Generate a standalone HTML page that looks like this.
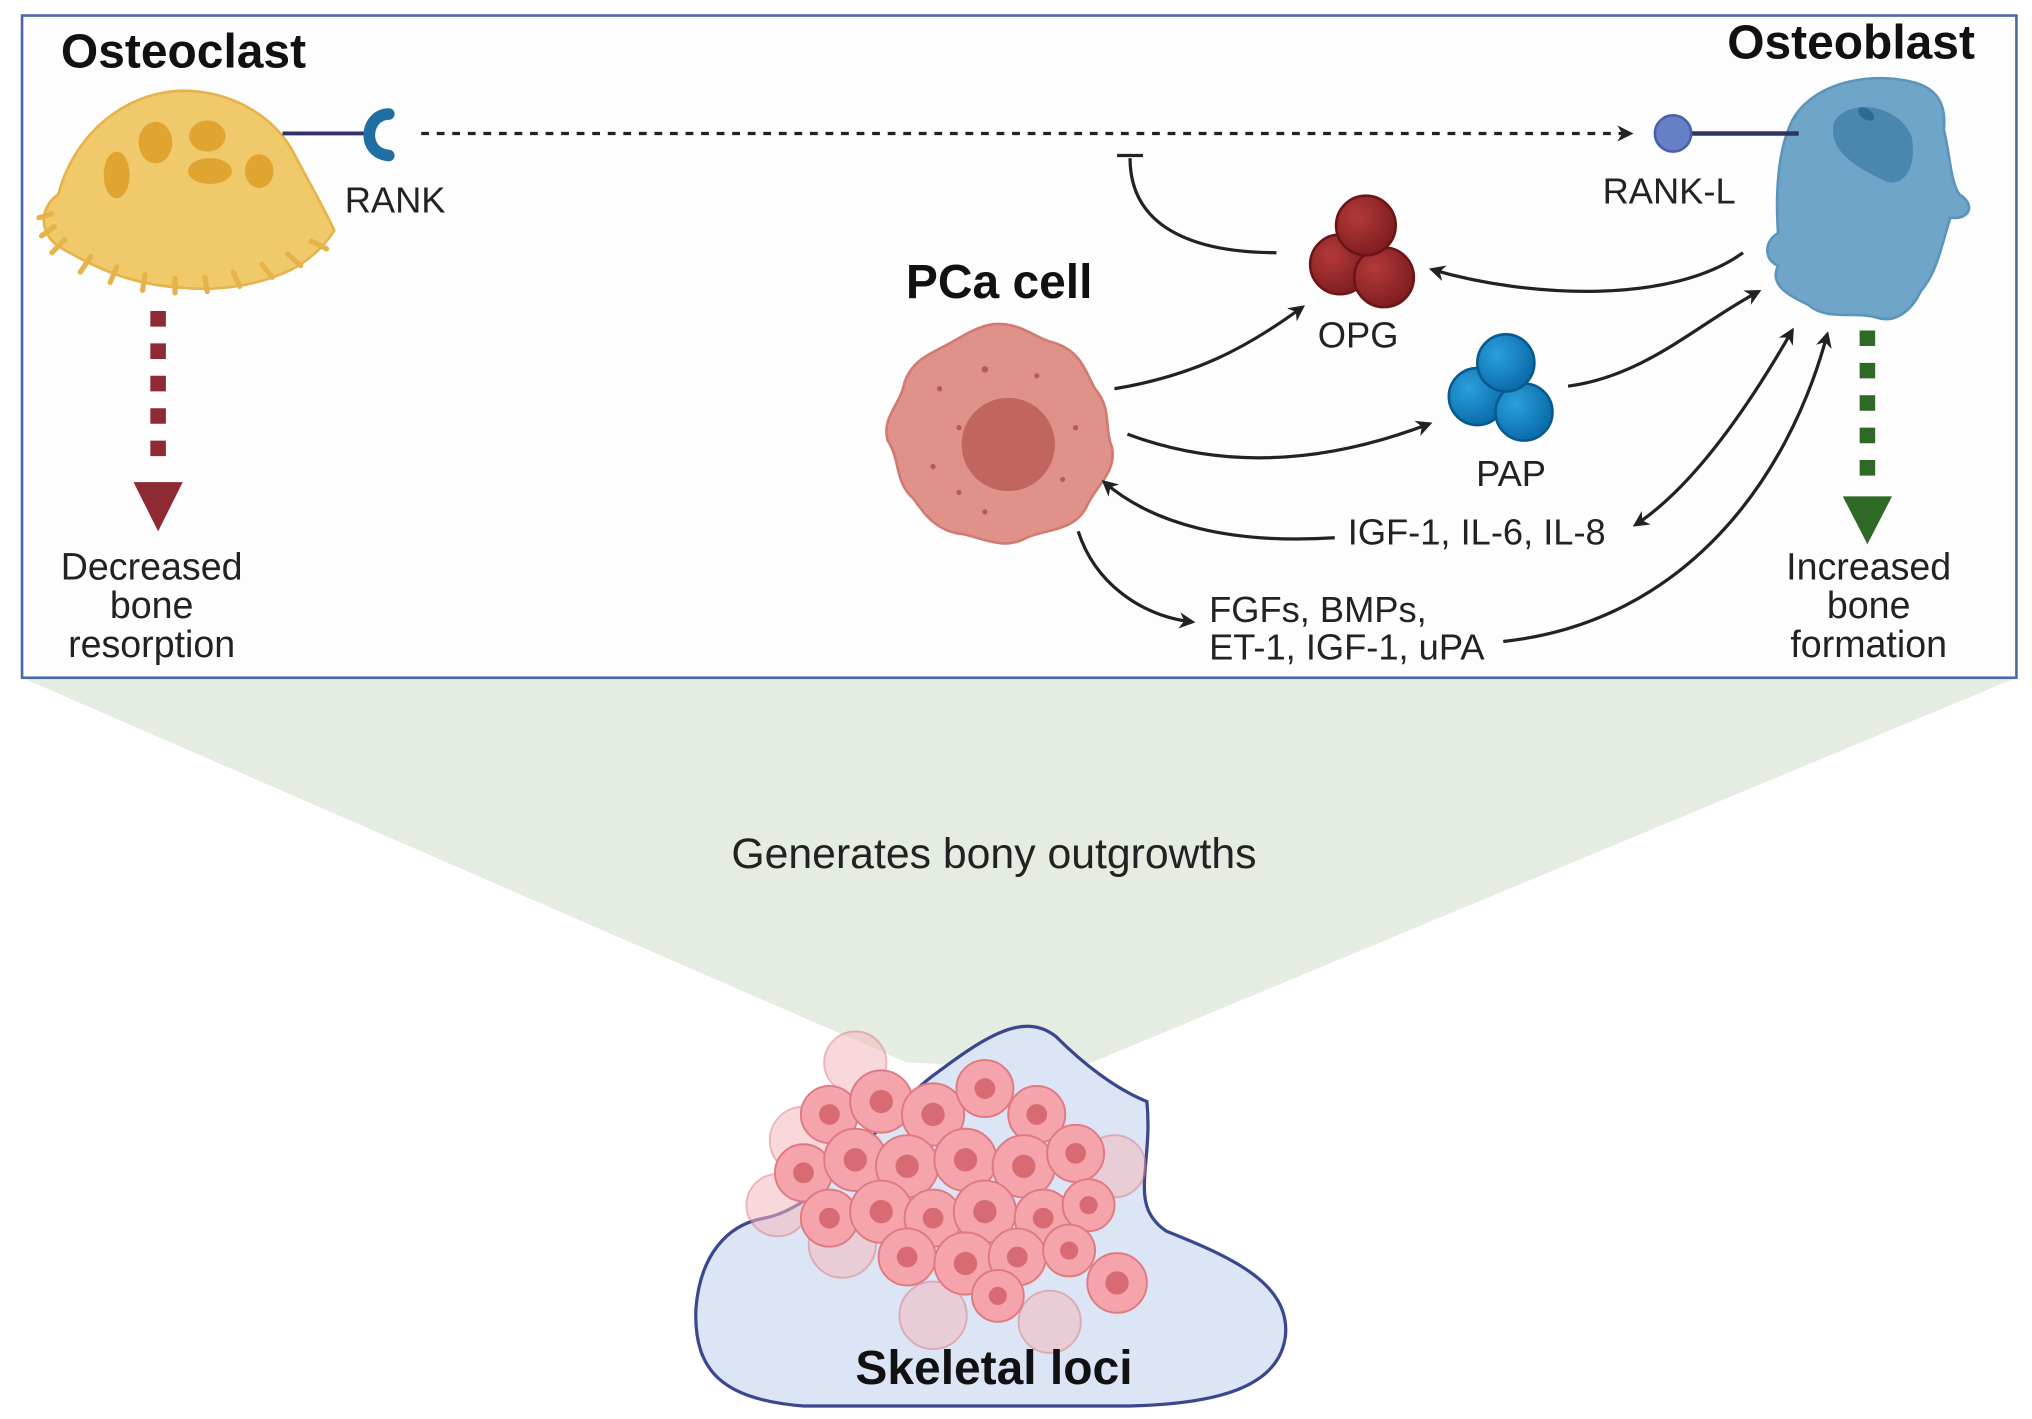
<!DOCTYPE html>
<html><head><meta charset="utf-8"><style>
html,body{margin:0;padding:0;background:#fff}
svg{display:block}
text{font-family:"Liberation Sans",sans-serif}
</style></head><body>
<svg width="2032" height="1419" viewBox="0 0 1568 1095" xmlns="http://www.w3.org/2000/svg">
<defs>
<marker id="ah" viewBox="0 0 10 10" refX="8" refY="5" markerWidth="5" markerHeight="5" orient="auto-start-reverse"><path d="M0,0 L10,5 L0,10 L3,5 z" fill="#222"/></marker>
<radialGradient id="rs" cx="0.35" cy="0.35" r="0.7"><stop offset="0" stop-color="#b33a3a"/><stop offset="1" stop-color="#7e1c1f"/></radialGradient>
<radialGradient id="bs" cx="0.35" cy="0.35" r="0.7"><stop offset="0" stop-color="#2aa0dc"/><stop offset="1" stop-color="#0a6aa8"/></radialGradient>
</defs>
<rect width="1568" height="1095" fill="#fff"/>
<polygon points="17,523 1556,523 830,825 700,820" fill="#e5ece1"/>
<rect x="17" y="12" width="1539" height="511" fill="#fdfdfd" stroke="#4a68a8" stroke-width="2"/>

<!-- Osteoclast -->
<text x="47" y="52" font-size="37" font-weight="bold" fill="#111">Osteoclast</text>
<path d="M45,150 C55,110 90,72 140,70 C180,70 210,90 225,115 C238,140 250,160 258,178 C250,190 240,200 225,208 C200,220 170,225 140,222 C100,220 70,205 45,190 C30,180 30,160 45,150 Z" fill="#f0c96a" stroke="#e6b34a" stroke-width="2"/>
<g stroke="#e6b34a" stroke-width="4" stroke-linecap="round">
<line x1="50" y1="185" x2="40" y2="195"/><line x1="70" y1="198" x2="62" y2="210"/><line x1="90" y1="206" x2="85" y2="218"/><line x1="112" y1="212" x2="110" y2="224"/><line x1="135" y1="215" x2="135" y2="226"/><line x1="158" y1="214" x2="160" y2="225"/><line x1="180" y1="210" x2="185" y2="221"/><line x1="202" y1="204" x2="210" y2="214"/><line x1="222" y1="196" x2="232" y2="205"/><line x1="240" y1="186" x2="252" y2="192"/><line x1="40" y1="165" x2="30" y2="168"/><line x1="42" y1="175" x2="32" y2="182"/>
</g>
<g fill="#e0a530">
<ellipse cx="120" cy="110" rx="13" ry="16"/><ellipse cx="160" cy="105" rx="14" ry="12"/><ellipse cx="90" cy="135" rx="10" ry="18"/><ellipse cx="162" cy="132" rx="17" ry="10"/><ellipse cx="200" cy="132" rx="11" ry="13"/>
</g>
<line x1="218" y1="103" x2="282" y2="103" stroke="#33306a" stroke-width="3"/>
<path d="M300,88 C282,88 278,118 300,120" fill="none" stroke="#1f6fa3" stroke-width="9" stroke-linecap="round"/>
<text x="266" y="164" font-size="28" fill="#222">RANK</text>

<line x1="325" y1="103" x2="1258" y2="103" stroke="#222" stroke-width="2.5" stroke-dasharray="6,6" marker-end="url(#ah)"/>

<!-- Osteoblast -->
<text x="1524" y="45" font-size="37" font-weight="bold" fill="#111" text-anchor="end">Osteoblast</text>
<path d="M1380,100 C1390,70 1430,55 1470,62 C1495,66 1502,80 1500,100 C1505,120 1505,140 1512,150 C1525,158 1520,170 1505,168 C1498,190 1495,210 1482,225 C1475,240 1462,250 1448,245 C1430,240 1410,248 1395,235 C1380,228 1365,220 1372,205 C1360,200 1362,185 1372,180 C1370,150 1372,120 1380,100 Z" fill="#6ea5c8" stroke="#5c95b9" stroke-width="2"/>
<path d="M1415,95 C1425,75 1465,80 1475,105 C1480,130 1468,145 1455,140 C1440,132 1410,120 1415,95 Z" fill="#4a86ad"/>
<ellipse cx="1440" cy="88" rx="7" ry="4" fill="#2f6a95" transform="rotate(35 1440 88)"/>
<line x1="1300" y1="103" x2="1388" y2="103" stroke="#2e3660" stroke-width="3.5"/>
<circle cx="1291" cy="103" r="14" fill="#6680c8" stroke="#4a60a8" stroke-width="2"/>
<text x="1288" y="157" font-size="28" fill="#222" text-anchor="middle">RANK-L</text>

<line x1="122" y1="240" x2="122" y2="360" stroke="#8e2a32" stroke-width="12" stroke-dasharray="12,13"/>
<polygon points="103,372 141,372 122,410" fill="#8e2a32"/>
<line x1="1441" y1="255" x2="1441" y2="372" stroke="#2e6a26" stroke-width="12" stroke-dasharray="12,13"/>
<polygon points="1422,383 1460,383 1441,420" fill="#2e6a26"/>
<g font-size="29" fill="#222" text-anchor="middle">
<text x="117" y="447">Decreased</text><text x="117" y="477">bone</text><text x="117" y="507">resorption</text>
<text x="1442" y="447">Increased</text><text x="1442" y="477">bone</text><text x="1442" y="507">formation</text>
</g>

<!-- PCa cell -->
<text x="771" y="230" font-size="37" font-weight="bold" fill="#111" text-anchor="middle">PCa cell</text>
<path d="M770,250 C790,250 800,262 815,265 C835,272 838,288 845,300 C858,315 852,330 858,345 C862,365 845,375 838,392 C828,410 808,408 792,415 C775,425 758,415 742,412 C722,410 712,395 705,385 C690,372 695,355 685,340 C680,322 695,312 698,295 C705,275 722,272 738,262 C750,255 760,250 770,250 Z" fill="#e0928a" stroke="#d07a72" stroke-width="2"/>
<circle cx="778" cy="343" r="36" fill="#c0665e"/>
<g fill="#b65a52"><circle cx="725" cy="300" r="2"/><circle cx="760" cy="285" r="2.5"/><circle cx="740" cy="330" r="2"/><circle cx="720" cy="360" r="2"/><circle cx="800" cy="290" r="2"/><circle cx="830" cy="330" r="2"/><circle cx="760" cy="395" r="2"/><circle cx="820" cy="370" r="2"/><circle cx="740" cy="380" r="2"/></g>

<!-- OPG -->
<circle cx="1034" cy="204" r="23" fill="url(#rs)" stroke="#6a1518" stroke-width="2"/>
<circle cx="1068" cy="214" r="23" fill="url(#rs)" stroke="#6a1518" stroke-width="2"/>
<circle cx="1054" cy="174" r="23" fill="url(#rs)" stroke="#6a1518" stroke-width="2"/>
<text x="1048" y="268" font-size="28" fill="#222" text-anchor="middle">OPG</text>
<!-- PAP -->
<circle cx="1140" cy="306" r="22" fill="url(#bs)" stroke="#075a90" stroke-width="2"/>
<circle cx="1176" cy="318" r="22" fill="url(#bs)" stroke="#075a90" stroke-width="2"/>
<circle cx="1162" cy="280" r="22" fill="url(#bs)" stroke="#075a90" stroke-width="2"/>
<text x="1166" y="375" font-size="28" fill="#222" text-anchor="middle">PAP</text>

<g fill="none" stroke="#222" stroke-width="2.5">
<path d="M985,195 C920,195 872,175 872,122"/>
<line x1="862" y1="120" x2="882" y2="120"/>
<path d="M860,300 C920,290 960,270 1005,237" marker-end="url(#ah)"/>
<path d="M870,335 C950,365 1030,355 1103,327" marker-end="url(#ah)"/>
<path d="M1345,195 C1290,235 1180,230 1105,208" marker-end="url(#ah)"/>
<path d="M1210,298 C1270,290 1310,250 1357,225" marker-end="url(#ah)"/>
<path d="M1383,255 C1340,330 1300,380 1262,405" marker-start="url(#ah)" marker-end="url(#ah)"/>
<path d="M1030,415 C950,420 890,405 852,372" marker-end="url(#ah)"/>
<path d="M832,410 C845,450 880,475 920,480" marker-end="url(#ah)"/>
<path d="M1160,495 C1300,480 1380,370 1410,258" marker-end="url(#ah)"/>
</g>
<text x="1040" y="420" font-size="28" fill="#222">IGF-1, IL-6, IL-8</text>
<text x="933" y="480" font-size="28" fill="#222">FGFs, BMPs,</text>
<text x="933" y="509" font-size="28" fill="#222">ET-1, IGF-1, uPA</text>

<text x="767" y="670" font-size="33" fill="#222" text-anchor="middle">Generates bony outgrowths</text>

<path d="M590,940 C640,930 680,860 720,830 C760,800 790,780 815,800 C835,820 860,840 885,850 C890,900 870,930 900,950 C950,970 995,990 992,1030 C988,1070 940,1085 860,1085 L620,1085 C560,1080 535,1060 537,1010 C540,970 560,945 590,940 Z" fill="#dbe5f6" stroke="#3a4690" stroke-width="2.5"/>
<g stroke="#e07a82" stroke-width="1.5">
<g fill="#f4b9bd" opacity="0.55">
<circle cx="620" cy="880" r="26"/><circle cx="600" cy="930" r="24"/><circle cx="860" cy="900" r="24"/><circle cx="810" cy="1020" r="24"/><circle cx="720" cy="1015" r="26"/><circle cx="650" cy="960" r="26"/><circle cx="660" cy="820" r="24"/>
</g>
<g fill="#f4a4aa">
<circle cx="640" cy="860" r="22"/><circle cx="680" cy="850" r="24"/><circle cx="720" cy="860" r="24"/><circle cx="760" cy="840" r="22"/><circle cx="800" cy="860" r="22"/>
<circle cx="620" cy="905" r="22"/><circle cx="660" cy="895" r="24"/><circle cx="700" cy="900" r="24"/><circle cx="745" cy="895" r="24"/><circle cx="790" cy="900" r="24"/><circle cx="830" cy="890" r="22"/>
<circle cx="640" cy="940" r="22"/><circle cx="680" cy="935" r="24"/><circle cx="720" cy="940" r="22"/><circle cx="760" cy="935" r="24"/><circle cx="805" cy="940" r="22"/><circle cx="840" cy="930" r="20"/>
<circle cx="700" cy="970" r="22"/><circle cx="745" cy="975" r="24"/><circle cx="785" cy="970" r="22"/><circle cx="825" cy="965" r="20"/><circle cx="770" cy="1000" r="20"/><circle cx="862" cy="990" r="23"/>
</g>
<g fill="#d86a74" stroke="none">
<circle cx="640" cy="860" r="8"/><circle cx="680" cy="850" r="9"/><circle cx="720" cy="860" r="9"/><circle cx="760" cy="840" r="8"/><circle cx="800" cy="860" r="8"/>
<circle cx="620" cy="905" r="8"/><circle cx="660" cy="895" r="9"/><circle cx="700" cy="900" r="9"/><circle cx="745" cy="895" r="9"/><circle cx="790" cy="900" r="9"/><circle cx="830" cy="890" r="8"/>
<circle cx="640" cy="940" r="8"/><circle cx="680" cy="935" r="9"/><circle cx="720" cy="940" r="8"/><circle cx="760" cy="935" r="9"/><circle cx="805" cy="940" r="8"/><circle cx="840" cy="930" r="7"/>
<circle cx="700" cy="970" r="8"/><circle cx="745" cy="975" r="9"/><circle cx="785" cy="970" r="8"/><circle cx="825" cy="965" r="7"/><circle cx="770" cy="1000" r="7"/><circle cx="862" cy="990" r="9"/>
</g>
</g>
<text x="767" y="1068" font-size="37" font-weight="bold" fill="#111" text-anchor="middle">Skeletal loci</text>
</svg>
</body></html>
